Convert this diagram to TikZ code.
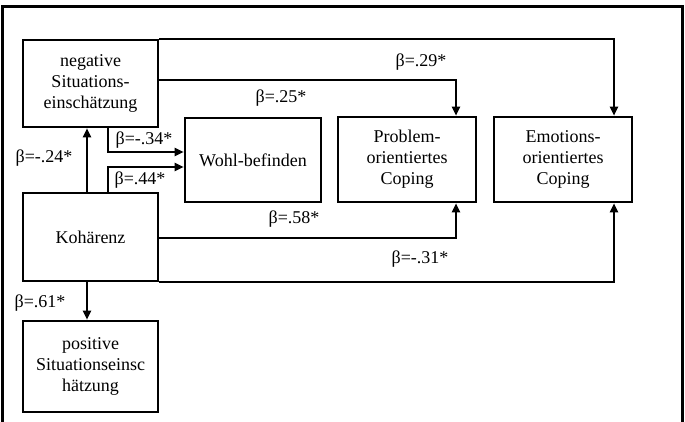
\documentclass[tikz,border=0pt]{standalone}
\usepackage{fontspec}
\setmainfont{Liberation Serif}
\usetikzlibrary{arrows.meta}
\begin{document}
\begin{tikzpicture}[x=1pt,y=-1pt,
  box/.style={draw,line width=2.6pt,align=center,inner sep=0pt,
    font=\fontsize{18}{21}\selectfont},
  arr/.style={line width=2pt,-{Triangle[length=9pt,width=8pt]}},
  lab/.style={font=\fontsize{18}{21}\selectfont,inner sep=0pt}]
\useasboundingbox (0,0) rectangle (685,422);
\draw[line width=3pt] (2,422) -- (2,7) -- (682,7) -- (682,422);
\node[box,minimum width=135pt,minimum height=87pt] (neg) at (90.5,83.5) {negative\\Situations-\\einschätzung};
\node[box,minimum width=135pt,minimum height=88pt] (koh) at (90.5,237) {Kohärenz};
\node[box,minimum width=135pt,minimum height=91pt] (pos) at (90.5,366.5) {positive\\Situationseinsc\\hätzung};
\node[box,minimum width=136pt,minimum height=84pt] (wohl) at (253,160) {Wohl-befinden};
\node[box,minimum width=138pt,minimum height=85pt] (prob) at (407,159.5) {Problem-\\orientiertes\\Coping};
\node[box,minimum width=138pt,minimum height=85pt] (emo) at (563,159.5) {Emotions-\\orientiertes\\Coping};
\draw[arr] (neg.north east) -| ([xshift=51pt]emo.north);
\draw[arr] ([yshift=3.5pt]neg.east) -| ([xshift=49pt]prob.north);
\draw[arr] ([xshift=17.5pt]neg.south) |- ([yshift=8pt]wohl.west);
\draw[arr] ([xshift=17.5pt]koh.north) |- ([yshift=-7pt]wohl.west);
\draw[arr] ([xshift=-3.5pt]koh.north) -- ([xshift=-3.5pt]neg.south);
\draw[arr] ([yshift=-1pt]koh.east) -| ([xshift=49pt]prob.south);
\draw[arr] (koh.south east) -| ([xshift=51pt]emo.south);
\draw[arr] ([xshift=-3.5pt]koh.south) -- ([xshift=-3.5pt]pos.north);
\node[lab] (l25) at (281,98) {β=.25*};
\node[lab] (l29) at (421,62) {β=.29*};
\node[lab] (l34) at (144,140) {β=-.34*};
\node[lab] (l44) at (140,180) {β=.44*};
\node[lab] (l24) at (44,158) {β=-.24*};
\node[lab] (l58) at (294,219) {β=.58*};
\node[lab] (l31) at (420,259) {β=-.31*};
\node[lab] (l61) at (40,303) {β=.61*};
\end{tikzpicture}
\end{document}
